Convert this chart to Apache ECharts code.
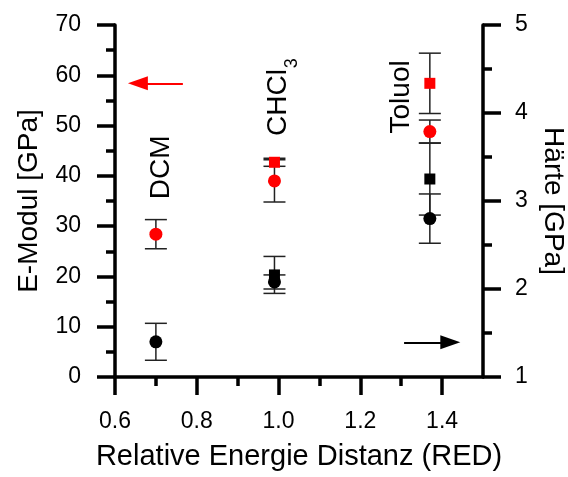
<!DOCTYPE html>
<html>
<head>
<meta charset="utf-8">
<script src="https://cdn.jsdelivr.net/npm/echarts@6/dist/echarts.min.js"></script>
<style>
html, body { margin: 0; padding: 0; background: #fff; }
#chart { width: 568px; height: 477px; }
</style>
</head>
<body>
<div id="chart"></div>
<script>
// RED of the three solvents
const redDCM = 0.70, redCHCl3 = 0.99, redToluol = 1.37;

// E-Modul, left axis (red)
const emodSquareX = [redCHCl3, redToluol];
const emodSquare = [42.7, 58.4];
const emodSquareErr = [0.8, 6.0];
const emodCircleX = [redDCM, redCHCl3, redToluol];
const emodCircle = [28.4, 39.0, 48.8];
const emodCircleErr = [2.9, 4.2, 2.3];

// Härte, right axis (black)
const haerteSquareX = [redCHCl3, redToluol];
const haerteSquare = [2.16, 3.25];
const haerteSquareErr = [0.21, 0.41];
const haerteCircleX = [redDCM, redCHCl3, redToluol];
const haerteCircle = [1.40, 2.08, 2.80];
const haerteCircleErr = [0.21, 0.08, 0.28];

const xTicks = [0.6, 0.8, 1.0, 1.2, 1.4];
const xMinorTicks = [0.7, 0.9, 1.1, 1.3];

// solvent names + arrows, in (RED, E-Modul) units
// "3" is the subscript of CHCl3, drawn smaller
const solventNames = ['DCM', 'CHCl', '3', 'Toluol'];
const solventLabelPos = [[0.712, 41.7], [1.0, 54.6], [1.034, 62.4], [1.30, 55.7]];
const solventFontSize = [28, 28, 18, 28];
const arrowLeft = [[0.766, 58.4], [0.656, 58.4]];
const arrowRight = [[1.307, 6.9], [1.42, 6.9]];

const font = 'Liberation Sans, Arial, sans-serif';

function errorBars(xs, ys, errs, yIndex) {
    return {
        type: 'custom',
        yAxisIndex: yIndex,
        silent: true,
        z: 1,
        encode: { x: 0, y: [1, 2] },
        data: xs.map((x, i) => [x, ys[i] - errs[i], ys[i] + errs[i]]),
        renderItem: function (params, api) {
            const lo = api.coord([api.value(0), api.value(1)]);
            const hi = api.coord([api.value(0), api.value(2)]);
            const w = 11;
            const style = { stroke: '#222', lineWidth: 1.5 };
            return {
                type: 'group',
                children: [
                    { type: 'line', shape: { x1: lo[0], y1: lo[1], x2: hi[0], y2: hi[1] }, style: style },
                    { type: 'line', shape: { x1: lo[0] - w, y1: lo[1], x2: lo[0] + w, y2: lo[1] }, style: style },
                    { type: 'line', shape: { x1: hi[0] - w, y1: hi[1], x2: hi[0] + w, y2: hi[1] }, style: style }
                ]
            };
        }
    };
}

function points(xs, ys, yIndex, symbol, size, color) {
    return {
        type: 'scatter',
        yAxisIndex: yIndex,
        symbol: symbol,
        symbolSize: size,
        itemStyle: { color: color, opacity: 1 },
        z: 3,
        data: xs.map((x, i) => [x, ys[i]])
    };
}

const axisLineStyle = { color: '#000', width: 3.5 };

const option = {
    animation: false,
    textStyle: { fontFamily: font },
    grid: { left: 115, right: 85, top: 25, bottom: 100, containLabel: false, outerBoundsMode: 'none' },
    xAxis: [{
        type: 'value',
        min: 0.6,
        max: 1.5,
        interval: 0.2,
        axisLine: { onZero: false, lineStyle: axisLineStyle },
        axisTick: { length: 18, lineStyle: axisLineStyle, customValues: xTicks },
        axisLabel: {
            customValues: xTicks,
            formatter: v => v.toFixed(1),
            margin: 33, fontSize: 23, color: '#000', fontFamily: font
        },
        splitLine: { show: false },
        name: 'Relative Energie Distanz (RED)',
        nameLocation: 'middle',
        nameGap: 65,
        nameTextStyle: { fontSize: 29, color: '#000', fontFamily: font }
    }, {
        type: 'value',
        position: 'bottom',
        min: 0.6,
        max: 1.5,
        axisLine: { show: false },
        axisTick: { length: 9, lineStyle: axisLineStyle, customValues: xMinorTicks },
        axisLabel: { show: false },
        splitLine: { show: false }
    }],
    yAxis: [{
        type: 'value',
        position: 'left',
        min: 0,
        max: 70,
        interval: 10,
        axisLine: { show: true, lineStyle: axisLineStyle },
        axisTick: { show: true, length: 18, lineStyle: axisLineStyle },
        minorTick: { show: true, splitNumber: 2, length: 9, lineStyle: axisLineStyle },
        axisLabel: { margin: 34, fontSize: 23, color: '#000', fontFamily: font },
        splitLine: { show: false },
        name: 'E-Modul [GPa]',
        nameLocation: 'middle',
        nameGap: 72,
        nameTextStyle: { fontSize: 28, color: '#000', fontFamily: font }
    }, {
        type: 'value',
        position: 'right',
        min: 1,
        max: 5,
        interval: 1,
        axisLine: { show: true, lineStyle: axisLineStyle },
        axisTick: { show: true, length: 18, lineStyle: axisLineStyle },
        minorTick: { show: true, splitNumber: 2, length: 9, lineStyle: axisLineStyle },
        axisLabel: { margin: 32, fontSize: 23, color: '#000', fontFamily: font },
        splitLine: { show: false },
        name: 'Härte [GPa]',
        nameLocation: 'middle',
        nameRotate: -90,
        nameGap: 56,
        nameTextStyle: { fontSize: 28, color: '#000', fontFamily: font }
    }],
    series: [
        errorBars(emodSquareX, emodSquare, emodSquareErr, 0),
        errorBars(emodCircleX, emodCircle, emodCircleErr, 0),
        errorBars(haerteSquareX, haerteSquare, haerteSquareErr, 1),
        errorBars(haerteCircleX, haerteCircle, haerteCircleErr, 1),
        points(emodSquareX, emodSquare, 0, 'rect', 11, '#ff0000'),
        points(emodCircleX, emodCircle, 0, 'circle', 13, '#ff0000'),
        points(haerteSquareX, haerteSquare, 1, 'rect', 11, '#000'),
        points(haerteCircleX, haerteCircle, 1, 'circle', 13, '#000'),
        {
            type: 'scatter',
            yAxisIndex: 0,
            symbolSize: 0,
            silent: true,
            z: 4,
            itemStyle: { color: '#000', opacity: 1 },
            data: solventNames.map((n, i) => ({
                name: n,
                value: solventLabelPos[i],
                label: { fontSize: solventFontSize[i] }
            })),
            label: {
                show: true,
                position: 'inside',
                rotate: 90,
                formatter: '{b}',
                color: '#000',
                opacity: 1,
                textBorderWidth: 0,
                fontFamily: font
            },
            markLine: {
                silent: true,
                symbol: ['none', 'triangle'],
                symbolSize: [14, 20],
                label: { show: false },
                data: [
                    [{ coord: arrowLeft[0], lineStyle: { color: '#ff0000', width: 2, type: 'solid' } }, { coord: arrowLeft[1] }],
                    [{ coord: arrowRight[0], lineStyle: { color: '#000', width: 2, type: 'solid' } }, { coord: arrowRight[1] }]
                ]
            }
        }
    ]
};

const chart = echarts.init(document.getElementById('chart'));
chart.setOption(option);
</script>
</body>
</html>
